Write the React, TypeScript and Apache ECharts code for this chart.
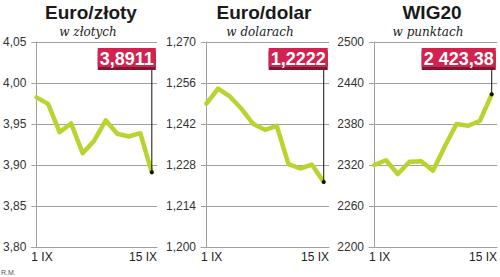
import React, { useEffect, useRef } from "react";
import * as echarts from "echarts";

// ---- data ----
const DATES = ["1 IX", "2 IX", "5 IX", "6 IX", "7 IX", "8 IX", "9 IX", "12 IX", "13 IX", "14 IX", "15 IX"];
const EUR_PLN = [3.9825, 3.9745, 3.94, 3.9507, 3.9143, 3.9297, 3.9545, 3.9381, 3.9348, 3.9388, 3.8911];
const EUR_USD = [1.2489, 1.2541, 1.2514, 1.2472, 1.242, 1.24, 1.2414, 1.2283, 1.2268, 1.2281, 1.2222];
const WIG20 = [2320.0, 2327.0, 2306.8, 2324.8, 2325.5, 2311.7, 2347.0, 2380.0, 2377.5, 2384.8, 2423.38];

const TITLES = ["Euro/złoty", "Euro/dolar", "WIG20"];
const SUBTITLES = ["w złotych", "w dolarach", "w punktach"];
const Y_MIN = [3.8, 1.2, 2200];
const Y_STEP = [0.05, 0.014, 60];
const Y_TICK_COUNT = 5;
const Y_DECIMALS = [2, 3, 0];
const VALUE_DECIMALS = [4, 4, 2];
const SOURCE = "R.M.";

const SERIES = [EUR_PLN, EUR_USD, WIG20];

// ---- layout / style ----
const GRIDS = [
  { left: 30, width: 127 },
  { left: 201, width: 128 },
  { left: 369, width: 128 },
];
const GRID_TOP = 42;
const GRID_HEIGHT = 205;
const TITLE_X = [91, 264, 432];
const SUB_X = [88, 260, 428];
const LINE_COLOR = "#bcd32f";
const BOX_COLOR = "#d0234f";
const BOX_SHADOW = "#7c1832";
const GRID_COLOR = "#a0a0a0";
const SANS = '"Liberation Sans", Arial, sans-serif';
const BOX_FONT = `bold 18px ${SANS}`;

function fmtNum(v: number, d: number, thousands: boolean): string {
  const s = v.toFixed(d);
  const parts = s.split(".");
  let ip = parts[0];
  if (thousands) ip = ip.replace(/\B(?=(\d{3})+(?!\d))/g, " ");
  return parts.length > 1 ? ip + "," + parts[1] : ip;
}

function measure(text: string, font: string): number {
  const c = document.createElement("canvas");
  const ctx = c.getContext("2d");
  if (!ctx) return text.length * 10;
  ctx.font = font;
  return ctx.measureText(text).width;
}

export default function App() {
  const ref = useRef<HTMLDivElement>(null);

  useEffect(() => {
    document.body.style.margin = "0";
    if (!ref.current) return;
    const chart = echarts.init(ref.current, undefined, { renderer: "svg" });

    const xMin = -0.45;
    const xMax = DATES.length - 1 + 0.45;

    const option: any = {
      animation: false,
      grid: GRIDS.map((g) => ({
        left: g.left,
        width: g.width,
        top: GRID_TOP,
        height: GRID_HEIGHT,
        containLabel: false,
      })),
      xAxis: GRIDS.map((_, i) => ({
        type: "value",
        gridIndex: i,
        min: xMin,
        max: xMax,
        splitLine: { show: false },
        axisTick: { show: false },
        axisLine: { show: true, onZero: false, lineStyle: { color: GRID_COLOR, width: 1 } },
        axisLabel: {
          show: true,
          customValues: [xMin, xMax],
          showMinLabel: true,
          showMaxLabel: true,
          alignMinLabel: "left",
          alignMaxLabel: "right",
          margin: 4,
          color: "#222",
          fontFamily: SANS,
          fontSize: 12,
          formatter: (v: number) => (v < (xMin + xMax) / 2 ? DATES[0] : DATES[DATES.length - 1]),
        },
      })),
      yAxis: GRIDS.map((_, i) => ({
        type: "value",
        gridIndex: i,
        min: 0,
        max: Y_TICK_COUNT,
        interval: 1,
        axisLine: { show: true, lineStyle: { color: GRID_COLOR, width: 1 } },
        axisTick: { show: true, length: 3, lineStyle: { color: GRID_COLOR } },
        splitLine: { show: true, lineStyle: { color: GRID_COLOR, width: 1 } },
        axisLabel: {
          margin: 5,
          color: "#333",
          fontFamily: SANS,
          fontSize: 12,
          formatter: (v: number) => fmtNum(Y_MIN[i] + v * Y_STEP[i], Y_DECIMALS[i], false),
        },
      })),
      series: SERIES.map((arr, i) => ({
        type: "line",
        xAxisIndex: i,
        yAxisIndex: i,
        symbol: "none",
        showSymbol: false,
        silent: true,
        lineStyle: { color: LINE_COLOR, width: 4.5, join: "round", cap: "round" },
        data: arr.map((v, k) => [k, (v - Y_MIN[i]) / Y_STEP[i]]),
      })),
    };
    chart.setOption(option);

    const graphics: any[] = [];
    SERIES.forEach((arr, i) => {
      graphics.push({
        type: "text",
        x: TITLE_X[i],
        y: 12,
        z: 100,
        style: {
          text: TITLES[i],
          font: `bold 19px ${SANS}`,
          fill: "#1a1a1a",
          textAlign: "center",
          textVerticalAlign: "middle",
          align: "center",
          verticalAlign: "middle",
        },
      });
      graphics.push({
        type: "text",
        x: SUB_X[i],
        y: 32,
        z: 100,
        style: {
          text: SUBTITLES[i],
          font: 'italic 12px "DejaVu Serif", serif',
          fill: "#222",
          textAlign: "center",
          textVerticalAlign: "middle",
          align: "center",
          verticalAlign: "middle",
        },
      });
      const last = arr.length - 1;
      const p = chart.convertToPixel({ seriesIndex: i }, [last, (arr[last] - Y_MIN[i]) / Y_STEP[i]]) as number[];
      const label = fmtNum(arr[last], VALUE_DECIMALS[i], true);
      const boxTop = 48;
      const boxH = 19;
      const boxRight = p[0] + 4;
      const boxW = measure(label, BOX_FONT) + 4;
      graphics.push({
        type: "line",
        z: 100,
        shape: { x1: p[0], y1: boxTop + boxH + 3, x2: p[0], y2: p[1] },
        style: { stroke: "#111", lineWidth: 1 },
      });
      graphics.push({
        type: "circle",
        z: 101,
        shape: { cx: p[0], cy: p[1], r: 2 },
        style: { fill: "#111" },
      });
      graphics.push({
        type: "rect",
        z: 102,
        shape: { x: boxRight - boxW, y: boxTop + 3, width: boxW, height: boxH },
        style: { fill: BOX_SHADOW },
      });
      graphics.push({
        type: "rect",
        z: 103,
        shape: { x: boxRight - boxW, y: boxTop, width: boxW, height: boxH },
        style: { fill: BOX_COLOR },
      });
      graphics.push({
        type: "text",
        x: boxRight - boxW / 2,
        y: boxTop + boxH / 2 + 1,
        z: 104,
        style: {
          text: label,
          font: BOX_FONT,
          fill: "#fff",
          textAlign: "center",
          textVerticalAlign: "middle",
          align: "center",
          verticalAlign: "middle",
        },
      });
    });
    graphics.push({
      type: "text",
      x: 1,
      y: 272,
      z: 100,
      style: {
        text: SOURCE,
        font: `7px ${SANS}`,
        fill: "#555",
        textAlign: "left",
        textVerticalAlign: "middle",
        align: "left",
        verticalAlign: "middle",
      },
    });
    chart.setOption({ graphic: graphics });

    return () => chart.dispose();
  }, []);

  return (
    <div
      ref={ref}
      style={{ position: "fixed", left: 0, top: 0, width: 500, height: 277, background: "#fff" }}
    />
  );
}
